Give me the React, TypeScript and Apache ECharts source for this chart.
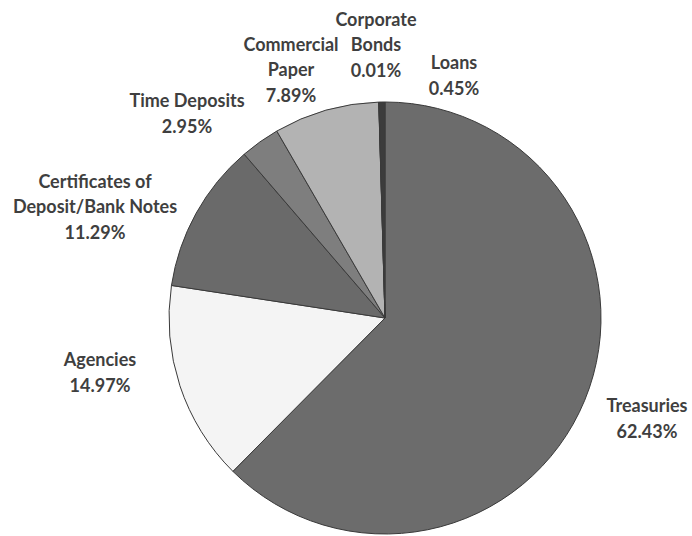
import React, { useEffect, useRef } from "react";
import * as echarts from "echarts";

const categories = [
  "Treasuries",
  "Agencies",
  "Certificates of\nDeposit/Bank Notes",
  "Time Deposits",
  "Commercial\nPaper",
  "Corporate\nBonds",
  "Loans",
];
const shares = [62.43, 14.97, 11.29, 2.95, 7.89, 0.01, 0.45];
const sliceColors = ["#6c6c6c", "#f4f4f4", "#6a6a6a", "#7e7e7e", "#b3b3b3", "#9a9a9a", "#3c3c3c"];
// label block centres (px)
const labelX = [647, 100, 95, 187, 291, 376, 454];
const labelY = [418, 372, 206, 113, 69, 44, 75];

export default function App() {
  const ref = useRef<HTMLDivElement>(null);
  useEffect(() => {
    document.body.style.margin = "0";
    if (!ref.current) return;
    const chart = echarts.init(ref.current, undefined, { renderer: "svg" });
    chart.setOption({
      animation: false,
      backgroundColor: "#ffffff",
      series: [
        {
          type: "pie",
          center: [385, 318],
          radius: 216,
          startAngle: 90,
          clockwise: true,
          avoidLabelOverlap: false,
          itemStyle: { borderColor: "#3a3a3a", borderWidth: 1 },
          label: {
            show: true,
            position: "outside",
            formatter: (p: any) => `${p.name}\n${Number(p.value).toFixed(2)}%`,
            fontFamily: "Lato",
            fontWeight: "bold",
            fontSize: 18,
            lineHeight: 25.5,
            color: "#3f3f3f",
            align: "center",
          },
          labelLine: { show: false },
          labelLayout: (p: any) => ({
            x: labelX[p.dataIndex],
            y: labelY[p.dataIndex],
            align: "center",
            verticalAlign: "middle",
          }),
          emphasis: { disabled: true },
          data: categories.map((name, i) => ({
            name,
            value: shares[i],
            itemStyle: { color: sliceColors[i] },
          })),
        },
      ],
    });
    return () => chart.dispose();
  }, []);
  return <div ref={ref} style={{ width: 692, height: 536 }} />;
}
